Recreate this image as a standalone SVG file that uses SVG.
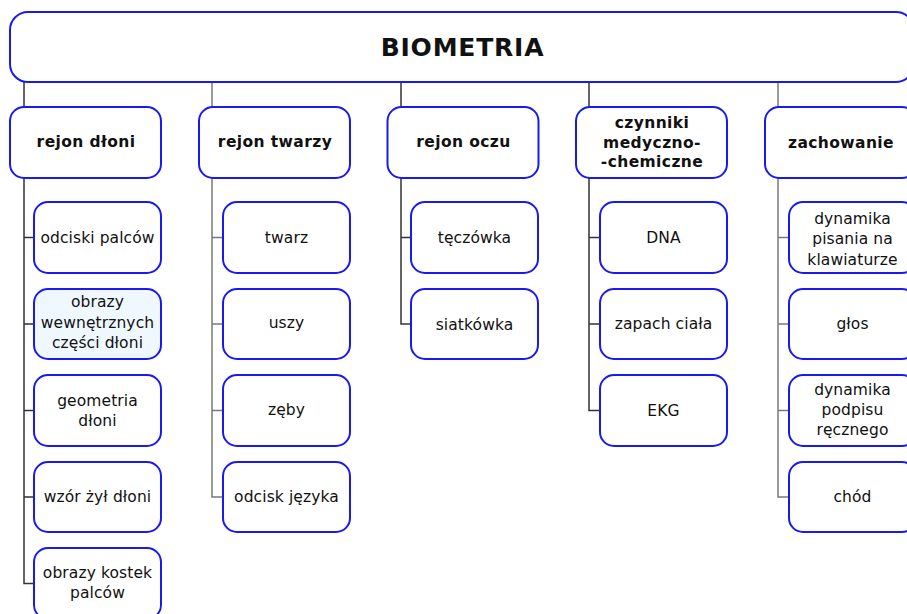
<svg xmlns="http://www.w3.org/2000/svg" width="907" height="614" viewBox="0 0 907 614">
  <style>
    .box { fill: #ffffff; stroke: #1a1aee; stroke-width: 2; }
    .hl { fill: #f0f8ff; }
    .t { font-family: "DejaVu Sans", Verdana, sans-serif; font-size: 15.5px; letter-spacing: 0.1px; fill: #111; text-anchor: middle; }
    .b { font-weight: bold; letter-spacing: 0.4px; }
    .title { font-family: "DejaVu Sans", Verdana, sans-serif; font-size: 25px; letter-spacing: 0.8px; font-weight: bold; fill: #111; text-anchor: middle; }
    .c { fill: none; stroke-width: 1.5; }
    .k1 { stroke: #333333; }
    .k2 { stroke: #7a7a7a; }
  </style>

  <!-- connectors -->
  <g id="connectors">
    <!-- root to categories -->
    <path class="c k1" d="M24 82 V107"/>
    <path class="c k2" d="M212 82 V107"/>
    <path class="c k1" d="M401 82 V107"/>
    <path class="c k1" d="M589 82 V107"/>
    <path class="c k2" d="M778 82 V107"/>
    <!-- rejon dłoni -->
    <path class="c k1" d="M24 178 V583.5 H34 M24 237.5 H34 M24 324 H34 M24 410.5 H34 M24 497 H34"/>
    <!-- rejon twarzy -->
    <path class="c k2" d="M212 178 V497 H223 M212 237.5 H223 M212 324 H223 M212 410.5 H223"/>
    <!-- rejon oczu -->
    <path class="c k1" d="M401 178 V324 H411 M401 237.5 H411"/>
    <!-- czynniki -->
    <path class="c k1" d="M589 178 V410.5 H600 M589 237.5 H600 M589 324 H600"/>
    <!-- zachowanie -->
    <path class="c k2" d="M778 178 V497 H789 M778 237.5 H789 M778 324 H789 M778 410.5 H789"/>
  </g>

  <!-- root -->
  <g id="root">
    <rect class="box" x="10" y="12" width="904" height="70" rx="18"/>
    <text class="title" x="462.5" y="56">BIOMETRIA</text>
  </g>

  <!-- categories -->
  <g id="cat-dlon">
    <rect class="box" x="10" y="107" width="151" height="71" rx="14"/>
    <text class="t b" x="86" y="147">rejon dłoni</text>
  </g>
  <g id="cat-twarz">
    <rect class="box" x="199" y="107" width="151" height="71" rx="14"/>
    <text class="t b" x="275" y="147">rejon twarzy</text>
  </g>
  <g id="cat-oczy">
    <rect class="box" x="387.5" y="107" width="151" height="71" rx="14"/>
    <text class="t b" x="463.5" y="147">rejon oczu</text>
  </g>
  <g id="cat-czynniki">
    <rect class="box" x="576" y="107" width="151" height="71" rx="14"/>
    <text class="t b" x="652" y="128">czynniki</text>
    <text class="t b" x="652" y="148">medyczno-</text>
    <text class="t b" x="652" y="167">-chemiczne</text>
  </g>
  <g id="cat-zachowanie">
    <rect class="box" x="765" y="107" width="151" height="71" rx="14"/>
    <text class="t b" x="841" y="148">zachowanie</text>
  </g>

  <!-- rejon dłoni children -->
  <g id="odciski-palcow">
    <rect class="box" x="34" y="202" width="127" height="71" rx="14"/>
    <text class="t" x="97.5" y="243">odciski palców</text>
  </g>
  <g id="obrazy-wewnetrznych">
    <rect class="box hl" x="34" y="289" width="127" height="70" rx="14"/>
    <text class="t" x="97.5" y="307">obrazy</text>
    <text class="t" x="97.5" y="328">wewnętrznych</text>
    <text class="t" x="97.5" y="348">części dłoni</text>
  </g>
  <g id="geometria-dloni">
    <rect class="box" x="34" y="375" width="127" height="71" rx="14"/>
    <text class="t" x="97.5" y="406">geometria</text>
    <text class="t" x="97.5" y="426">dłoni</text>
  </g>
  <g id="wzor-zyl">
    <rect class="box" x="34" y="462" width="127" height="70" rx="14"/>
    <text class="t" x="97.5" y="502">wzór żył dłoni</text>
  </g>
  <g id="obrazy-kostek">
    <rect class="box" x="34" y="548" width="127" height="71" rx="14"/>
    <text class="t" x="97.5" y="578">obrazy kostek</text>
    <text class="t" x="97.5" y="598">palców</text>
  </g>

  <!-- rejon twarzy children -->
  <g id="twarz">
    <rect class="box" x="223" y="202" width="127" height="71" rx="14"/>
    <text class="t" x="286.5" y="243">twarz</text>
  </g>
  <g id="uszy">
    <rect class="box" x="223" y="289" width="127" height="70" rx="14"/>
    <text class="t" x="286.5" y="328">uszy</text>
  </g>
  <g id="zeby">
    <rect class="box" x="223" y="375" width="127" height="71" rx="14"/>
    <text class="t" x="286.5" y="415">zęby</text>
  </g>
  <g id="odcisk-jezyka">
    <rect class="box" x="223" y="462" width="127" height="70" rx="14"/>
    <text class="t" x="286.5" y="502">odcisk języka</text>
  </g>

  <!-- rejon oczu children -->
  <g id="teczowka">
    <rect class="box" x="411" y="202" width="127" height="71" rx="14"/>
    <text class="t" x="474.5" y="243">tęczówka</text>
  </g>
  <g id="siatkowka">
    <rect class="box" x="411" y="289" width="127" height="70" rx="14"/>
    <text class="t" x="474.5" y="330">siatkówka</text>
  </g>

  <!-- czynniki children -->
  <g id="dna">
    <rect class="box" x="600" y="202" width="127" height="71" rx="14"/>
    <text class="t" x="663.5" y="243">DNA</text>
  </g>
  <g id="zapach">
    <rect class="box" x="600" y="289" width="127" height="70" rx="14"/>
    <text class="t" x="663.5" y="329">zapach ciała</text>
  </g>
  <g id="ekg">
    <rect class="box" x="600" y="375" width="127" height="71" rx="14"/>
    <text class="t" x="663.5" y="416">EKG</text>
  </g>

  <!-- zachowanie children -->
  <g id="dynamika-pisania">
    <rect class="box" x="789" y="202" width="127" height="71" rx="14"/>
    <text class="t" x="852.5" y="224">dynamika</text>
    <text class="t" x="852.5" y="244">pisania na</text>
    <text class="t" x="852.5" y="265">klawiaturze</text>
  </g>
  <g id="glos">
    <rect class="box" x="789" y="289" width="127" height="70" rx="14"/>
    <text class="t" x="852.5" y="329">głos</text>
  </g>
  <g id="dynamika-podpisu">
    <rect class="box" x="789" y="375" width="127" height="71" rx="14"/>
    <text class="t" x="852.5" y="395">dynamika</text>
    <text class="t" x="852.5" y="415">podpisu</text>
    <text class="t" x="852.5" y="435">ręcznego</text>
  </g>
  <g id="chod">
    <rect class="box" x="789" y="462" width="127" height="70" rx="14"/>
    <text class="t" x="852.5" y="502">chód</text>
  </g>
</svg>
